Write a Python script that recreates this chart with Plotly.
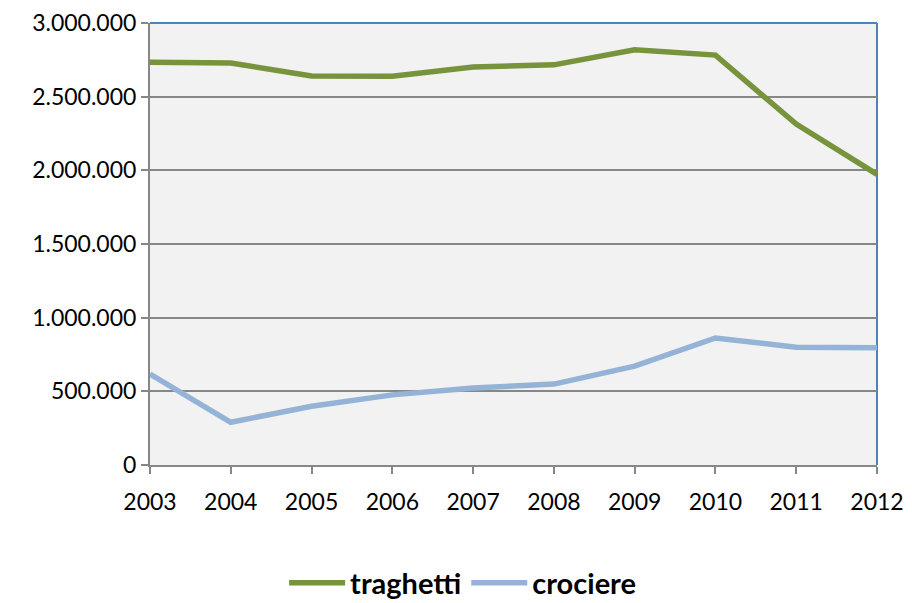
import plotly.graph_objects as go

years = [2003, 2004, 2005, 2006, 2007, 2008, 2009, 2010, 2011, 2012]
traghetti = [2734000, 2728000, 2641000, 2639000, 2702000, 2716000, 2818000, 2782000, 2314000, 1973000]
crociere = [617000, 290000, 399000, 476000, 522000, 549000, 671000, 862000, 799000, 796000]
y_ticks = [0, 500000, 1000000, 1500000, 2000000, 2500000, 3000000]

fig = go.Figure()
fig.add_trace(go.Scatter(x=years, y=traghetti, mode="lines", name="traghetti",
                         line=dict(color="#77933C", width=5.5)))
fig.add_trace(go.Scatter(x=years, y=crociere, mode="lines", name="crociere",
                         line=dict(color="#95B3D7", width=5.5)))

# page body has an 8px default margin, so compensate in the figure margins
fig.update_layout(
    width=904, height=595,
    margin=dict(l=142, r=35, t=15, b=138, autoexpand=False),
    paper_bgcolor="white",
    plot_bgcolor="#F2F2F2",
    separators=",.",
    font=dict(family="Lato, Open Sans, sans-serif", size=23, color="black"),
    showlegend=True,
    legend=dict(orientation="h", x=0.43, xanchor="center",
                y=-0.267, yanchor="middle",
                font=dict(size=29, color="black", weight="bold"), itemwidth=56,
                bgcolor="rgba(0,0,0,0)"),
    shapes=[
        dict(type="line", xref="paper", yref="paper", x0=0, x1=1, y0=1, y1=1,
             line=dict(color="#4F81BD", width=2), layer="above"),
        dict(type="line", xref="paper", yref="paper", x0=1, x1=1, y0=0, y1=1,
             line=dict(color="#4F81BD", width=2), layer="below"),
    ],
)
fig.update_xaxes(
    range=[2003, 2012], tickmode="array", tickvals=years,
    ticktext=[str(y) for y in years], tickangle=0,
    showgrid=False, showline=True, linecolor="#878787", linewidth=2,
    ticks="outside", ticklen=7, tickcolor="#878787", tickwidth=1.5,
    zeroline=False, ticklabelstandoff=8,
)
fig.update_yaxes(
    range=[0, 3000000], tickmode="array", tickvals=y_ticks, tickformat=",d",
    showgrid=True, gridcolor="#878787", gridwidth=1.5,
    showline=True, linecolor="#878787", linewidth=2,
    ticks="outside", ticklen=7, tickcolor="#878787", tickwidth=1.5,
    zeroline=False, ticklabelstandoff=0,
)

fig.write_html("out.html")
